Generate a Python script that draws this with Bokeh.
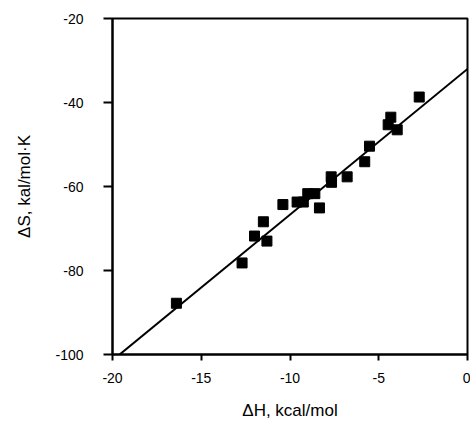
from bokeh.plotting import figure
from bokeh.models import Range1d, FixedTicker, ColumnDataSource
from bokeh.embed import file_html
from bokeh.resources import INLINE

# Data
dH = [-16.4, -12.7, -12.0, -11.3, -11.5, -10.4, -9.6, -9.25, -9.0, -8.6, -8.34,
      -7.68, -7.66, -6.78, -5.79, -5.52, -4.47, -4.32, -3.96, -2.72]
dS = [-87.8, -78.2, -71.8, -73.0, -68.4, -64.3, -63.7, -63.7, -61.7, -61.7, -65.1,
      -57.7, -59.0, -57.7, -54.1, -50.4, -45.3, -43.5, -46.5, -38.7]

fit_slope = 3.47
fit_intercept = -32.0
fit_x_start = -19.6
fit_x_end = 0.0

x_ticks = [-20, -15, -10, -5, 0]
y_ticks = [-100, -80, -60, -40, -20]

p = figure(width=470, height=423, output_backend="svg", toolbar_location=None,
           x_range=Range1d(-20, 0), y_range=Range1d(-100, -20),
           min_border_left=112, min_border_right=3, min_border_top=18, min_border_bottom=69)

p.grid.visible = False
p.outline_line_color = "black"
p.outline_line_width = 2
p.background_fill_color = "white"
p.border_fill_color = "white"

fx = [fit_x_start, fit_x_end]
fy = [fit_intercept + fit_slope * v for v in fx]
p.line(fx, fy, line_color="black", line_width=2)

src = ColumnDataSource(dict(x=dH, y=dS))
p.scatter("x", "y", source=src, marker="square", size=10, fill_color="black", line_color="black")

for ax in (p.xaxis[0], p.yaxis[0]):
    ax.axis_line_width = 2
    ax.major_tick_line_width = 2
    ax.minor_tick_line_color = None
    ax.major_label_text_font = "Liberation Sans"
    ax.major_label_text_font_size = "14px"
    ax.major_label_text_color = "black"
    ax.axis_label_text_font = "Liberation Sans"
    ax.axis_label_text_font_size = "17px"
    ax.axis_label_text_font_style = "normal"
    ax.axis_label_text_color = "black"
    ax.major_tick_in = 0

p.xaxis.ticker = FixedTicker(ticks=x_ticks)
p.yaxis.ticker = FixedTicker(ticks=y_ticks)
p.xaxis.major_label_overrides = {v: str(v) for v in x_ticks}
p.yaxis.major_label_overrides = {v: str(v) for v in y_ticks}
p.xaxis.major_tick_out = 6
p.yaxis.major_tick_out = 9
p.xaxis.major_label_standoff = 12
p.yaxis.major_label_standoff = 20
p.xaxis.axis_label = "ΔH, kcal/mol"
p.yaxis.axis_label = "ΔS, kal/mol·K"
p.xaxis.axis_label_standoff = 15
p.yaxis.axis_label_standoff = 18

open("out.html", "w").write(file_html(p, INLINE))
